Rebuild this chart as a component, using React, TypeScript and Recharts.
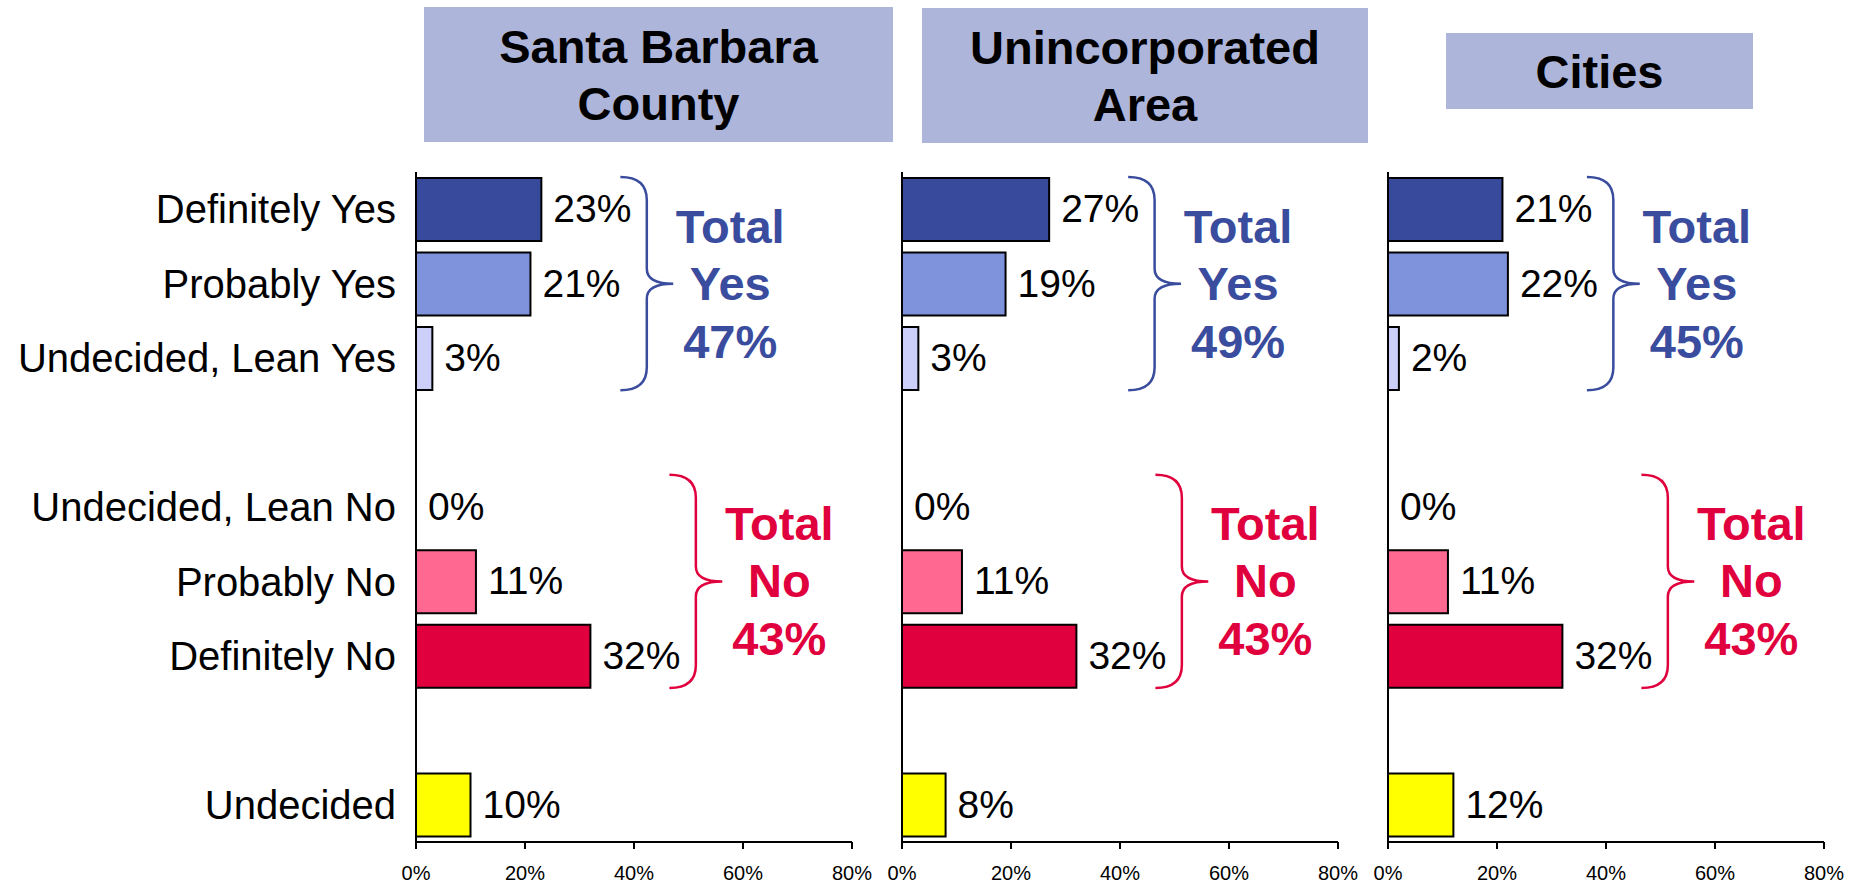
import React from "react";
import { Bar, Cell, ComposedChart, ReferenceArea, Scatter, XAxis, YAxis } from "recharts";

const categories = [
  "Definitely Yes",
  "Probably Yes",
  "Undecided, Lean Yes",
  "gap-1",
  "Undecided, Lean No",
  "Probably No",
  "Definitely No",
  "gap-2",
  "Undecided",
];
const barColors = ["#384A9C", "#7F93DC", "#CCCFF9", "#ffffff", "#FFB3C6", "#FF6991", "#E0003D", "#ffffff", "#FFFF00"];

const countyValues = [23, 21, 3, null, 0, 11, 32, null, 10];
const unincorporatedValues = [27, 19, 3, null, 0, 11, 32, null, 8];
const citiesValues = [21, 22, 2, null, 0, 11, 32, null, 12];

const totalYes = [47, 49, 45];
const totalNo = [43, 43, 43];

const panelTitles = [["Santa Barbara", "County"], ["Unincorporated", "Area"], ["Cities"]];
const xTicks = [0, 20, 40, 60, 80];

const FONT = "'Liberation Sans', Arial, sans-serif";
const YES_COLOR = "#3A4C9E";
const NO_COLOR = "#E0003D";

// layout of the three panels (chart box + title box)
const panels = [
  { left: 0, width: 880, axisW: 416, values: countyValues, box: { left: 424, top: 7, width: 469, height: 135 } },
  { left: 880, width: 486, axisW: 22, values: unincorporatedValues, box: { left: 922, top: 8, width: 446, height: 135 } },
  { left: 1366, width: 492, axisW: 22, values: citiesValues, box: { left: 1446, top: 33, width: 307, height: 76 } },
];

const Brace = (props: any) => {
  const { x, y, width, height, color, lines } = props;
  const top = y + 5;
  const bot = y + height - 5;
  const mid = (top + bot) / 2;
  const x1 = x;
  const x2 = x + width;
  const xs = (x1 + x2) / 2;
  const r = 23;
  const rm = 15;
  const d = `M${x1},${top} Q${xs},${top} ${xs},${top + r} L${xs},${mid - rm} Q${xs},${mid} ${x2},${mid} Q${xs},${mid} ${xs},${mid + rm} L${xs},${bot - r} Q${xs},${bot} ${x1},${bot}`;
  const tx = x2 + 57;
  const offs = [-41, 16, 74];
  return (
    <g>
      <path d={d} fill="none" stroke={color} strokeWidth={2.5} />
      <text textAnchor="middle" fill={color} fontSize={47} fontWeight="bold" fontFamily={FONT}>
        {lines.map((t: string, i: number) => (
          <tspan key={i} x={tx} y={mid + offs[i]}>
            {t}
          </tspan>
        ))}
      </text>
    </g>
  );
};

// value label placed at the bar end (works for 0-width bars too)
const ValueLabel = (props: any) => {
  const { cx, cy, payload } = props;
  if (!payload || payload.value == null) return null;
  return (
    <text x={Number(cx) + 12} y={Number(cy)} dy="0.33em" fill="#000" fontSize={39} fontFamily={FONT}>
      {`${payload.value}%`}
    </text>
  );
};

const Panel = ({ idx }: { idx: number }) => {
  const p = panels[idx];
  const data = categories.map((c, i) => ({ category: c, value: p.values[i] }));
  const yesMax = Math.max(...(p.values.slice(0, 3) as number[]));
  const noMax = Math.max(...(p.values.slice(4, 7) as number[]));
  const first = idx === 0;
  return (
    <div style={{ position: "absolute", left: p.left, top: 0 }}>
      <ComposedChart
        width={p.width}
        height={885}
        data={data}
        layout="vertical"
        margin={{ top: 172, right: p.width - p.axisW - 436, bottom: 0, left: 0 }}
      >
        <XAxis
          type="number"
          domain={[0, 80]}
          ticks={xTicks}
          tickFormatter={(v) => `${v}%`}
          height={43}
          tickSize={7}
          tickMargin={17}
          axisLine={{ stroke: "#000", strokeWidth: 2 }}
          tickLine={{ stroke: "#000", strokeWidth: 2 }}
          tick={{ fontSize: 20, fill: "#000", fontFamily: FONT }}
        />
        <YAxis
          type="category"
          dataKey="category"
          width={p.axisW}
          interval={0}
          tickLine={false}
          tickSize={0}
          tickMargin={20}
          tickFormatter={(c) => (String(c).startsWith("gap") ? "" : c)}
          axisLine={{ stroke: "#000", strokeWidth: 2 }}
          tick={first ? { fontSize: 40, fill: "#000", fontFamily: FONT } : false}
        />
        <Bar dataKey="value" barSize={63} stroke="#000" strokeWidth={2} isAnimationActive={false}>
          {data.map((_, i) => (
            <Cell key={`cell-${i}`} fill={barColors[i]} />
          ))}
        </Bar>
        <Scatter dataKey="value" shape={ValueLabel} isAnimationActive={false} />
        <ReferenceArea
          y1={categories[0]}
          y2={categories[2]}
          x1={yesMax + 14.5}
          x2={yesMax + 24.2}
          shape={(sp: any) => <Brace {...sp} color={YES_COLOR} lines={["Total", "Yes", `${totalYes[idx]}%`]} />}
        />
        <ReferenceArea
          y1={categories[4]}
          y2={categories[6]}
          x1={noMax + 14.5}
          x2={noMax + 24.2}
          shape={(sp: any) => <Brace {...sp} color={NO_COLOR} lines={["Total", "No", `${totalNo[idx]}%`]} />}
        />
      </ComposedChart>
    </div>
  );
};

export default function App() {
  return (
    <div style={{ position: "absolute", left: 0, top: 0, width: 1858, height: 885, background: "#fff", overflow: "hidden" }}>
      {panels.map((p, i) => (
        <div
          key={`title-${i}`}
          style={{
            position: "absolute",
            left: p.box.left,
            top: p.box.top,
            width: p.box.width,
            height: p.box.height,
            background: "#ADB5DB",
            display: "flex",
            flexDirection: "column",
            justifyContent: "center",
            alignItems: "center",
            fontFamily: FONT,
            fontWeight: "bold",
            fontSize: 47,
            lineHeight: "57px",
            color: "#000",
          }}
        >
          {panelTitles[i].map((t) => (
            <div key={t}>{t}</div>
          ))}
        </div>
      ))}
      {panels.map((_, i) => (
        <Panel key={`panel-${i}`} idx={i} />
      ))}
    </div>
  );
}
